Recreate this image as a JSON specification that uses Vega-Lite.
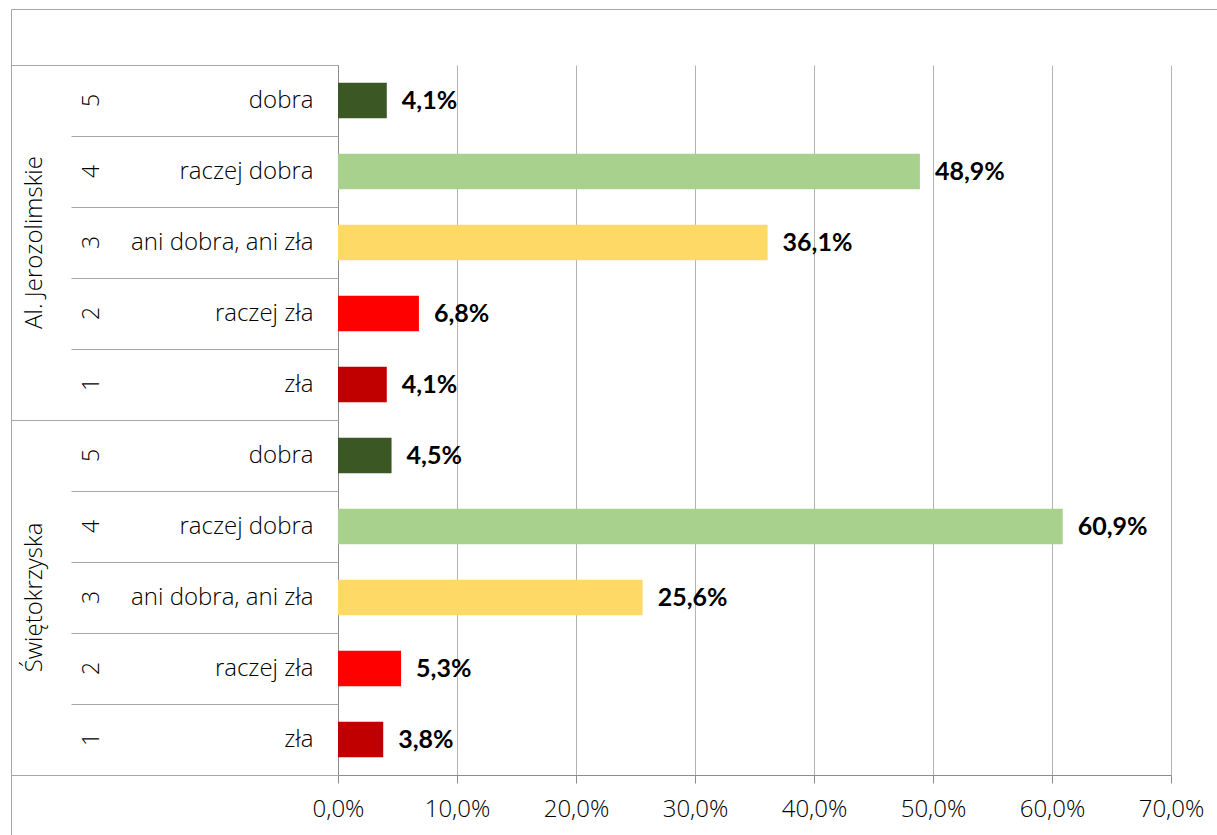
{
  "$schema": "https://vega.github.io/schema/vega-lite/v6.json",
  "width": 833,
  "height": 710,
  "autosize": {"type": "none"},
  "padding": {"left": 338, "top": 65, "right": 46, "bottom": 60},
  "background": "white",
  "config": {
    "view": {"stroke": null},
    "font": "Open Sans",
    "locale": {"number": {"decimal": ",", "thousands": " ", "grouping": [3], "currency": ["", " zł"], "percent": "%"}}
  },
  "data": {
    "values": [
      {"row": "Al. Jerozolimskie|5|dobra", "group": "Al. Jerozolimskie", "label": "dobra", "value": 0.041},
      {"row": "Al. Jerozolimskie|4|raczej dobra", "group": "Al. Jerozolimskie", "label": "raczej dobra", "value": 0.489},
      {"row": "Al. Jerozolimskie|3|ani dobra, ani zła", "group": "Al. Jerozolimskie", "label": "ani dobra, ani zła", "value": 0.361},
      {"row": "Al. Jerozolimskie|2|raczej zła", "group": "Al. Jerozolimskie", "label": "raczej zła", "value": 0.068},
      {"row": "Al. Jerozolimskie|1|zła", "group": "Al. Jerozolimskie", "label": "zła", "value": 0.041},
      {"row": "Świętokrzyska|5|dobra", "group": "Świętokrzyska", "label": "dobra", "value": 0.045},
      {"row": "Świętokrzyska|4|raczej dobra", "group": "Świętokrzyska", "label": "raczej dobra", "value": 0.609},
      {"row": "Świętokrzyska|3|ani dobra, ani zła", "group": "Świętokrzyska", "label": "ani dobra, ani zła", "value": 0.256},
      {"row": "Świętokrzyska|2|raczej zła", "group": "Świętokrzyska", "label": "raczej zła", "value": 0.053},
      {"row": "Świętokrzyska|1|zła", "group": "Świętokrzyska", "label": "zła", "value": 0.038}
    ]
  },
  "layer": [
    {
      "mark": {"type": "bar", "height": {"band": 0.5}},
      "encoding": {
        "y": {
          "field": "row", "type": "nominal", "sort": null,
          "scale": {"paddingInner": 0, "paddingOuter": 0},
          "axis": {
            "orient": "left", "title": null, "ticks": false, "grid": false,
            "domain": true, "domainColor": "#8C8C8C",
            "labelExpr": "split(datum.value, '|')[2]",
            "labelFont": "Open Sans", "labelFontWeight": 300, "labelFontSize": 24,
            "labelColor": "#000000", "labelPadding": 25, "labelLimit": 400, "labelOverlap": false
          }
        },
        "x": {
          "field": "value", "type": "quantitative",
          "scale": {"domain": [0, 0.7], "nice": false, "zero": true},
          "axis": {
            "title": null, "values": [0, 0.1, 0.2, 0.3, 0.4, 0.5, 0.6, 0.7], "format": ".1%",
            "grid": true, "gridColor": "#B3B3B3", "domainColor": "#8C8C8C",
            "tickColor": "#8C8C8C", "tickSize": 8,
            "labelFont": "Open Sans", "labelFontWeight": 300, "labelFontSize": 24,
            "labelColor": "#000000", "labelPadding": 14, "labelFlush": false
          }
        },
        "color": {
          "field": "label", "type": "nominal",
          "scale": {
            "domain": ["dobra", "raczej dobra", "ani dobra, ani zła", "raczej zła", "zła"],
            "range": ["#3A5724", "#A9D18E", "#FFD966", "#FF0000", "#C00000"]
          },
          "legend": {
            "orient": "none", "legendX": -327, "legendY": -56,
            "strokeColor": "#A6A6A6", "padding": 700, "title": null,
            "symbolSize": 0, "symbolOpacity": 0, "symbolStrokeWidth": 0,
            "labelExpr": "''"
          }
        }
      }
    },
    {
      "mark": {"type": "text", "align": "left", "baseline": "middle", "dx": 15, "font": "Lato", "fontWeight": "bold", "fontSize": 25, "color": "#000000"},
      "encoding": {
        "y": {
          "field": "row", "type": "nominal", "sort": null,
          "axis": {
            "orient": "left", "title": null, "labels": false, "domain": false, "grid": false,
            "ticks": true, "tickBand": "extent", "tickSize": 267, "tickColor": "#A6A6A6"
          }
        },
        "x": {"field": "value", "type": "quantitative"},
        "text": {"field": "value", "type": "quantitative", "format": ".1%"}
      }
    },
    {
      "mark": {"type": "text", "text": ""},
      "encoding": {
        "y": {
          "field": "row", "type": "nominal", "sort": null,
          "axis": {
            "orient": "left", "title": null, "ticks": false, "domain": false, "grid": false,
            "labelExpr": "split(datum.value, '|')[1]",
            "labelAngle": 270, "labelAlign": "center", "labelBaseline": "alphabetic",
            "labelFont": "Open Sans", "labelFontWeight": 300, "labelFontSize": 23,
            "labelColor": "#000000", "labelPadding": 240, "labelOverlap": false
          }
        },
        "x": {"field": "value", "type": "quantitative"}
      }
    },
    {
      "mark": {"type": "text", "text": ""},
      "encoding": {
        "y": {
          "field": "row", "type": "nominal", "sort": null,
          "axis": {
            "orient": "left", "title": null, "ticks": false, "domain": false, "grid": false,
            "labelExpr": "split(datum.value, '|')[1] == '3' ? split(datum.value, '|')[0] : ''",
            "labelAngle": 270, "labelAlign": "center", "labelBaseline": "alphabetic",
            "labelFont": "Open Sans", "labelFontWeight": 300, "labelFontSize": 24,
            "labelColor": "#000000", "labelPadding": 297, "labelLimit": 400, "labelOverlap": false
          }
        },
        "x": {"field": "value", "type": "quantitative"}
      }
    },
    {
      "mark": {"type": "text", "text": ""},
      "encoding": {
        "y": {
          "field": "row", "type": "nominal", "sort": null,
          "axis": {
            "orient": "left", "title": null, "labels": false, "domain": false, "grid": false,
            "values": ["Al. Jerozolimskie|1|zła", "Świętokrzyska|1|zła"],
            "bandPosition": 1, "ticks": true, "tickSize": 327, "tickColor": "#A6A6A6"
          }
        },
        "x": {"field": "value", "type": "quantitative"}
      }
    },
    {
      "mark": {"type": "text", "text": ""},
      "encoding": {
        "y": {
          "field": "row", "type": "nominal", "sort": null,
          "axis": {
            "orient": "left", "title": null, "labels": false, "domain": false, "grid": false,
            "values": ["Al. Jerozolimskie|5|dobra"],
            "bandPosition": 0, "ticks": true, "tickSize": 327, "tickColor": "#A6A6A6"
          }
        },
        "x": {"field": "value", "type": "quantitative"}
      }
    }
  ],
  "resolve": {"axis": {"y": "independent"}}
}
